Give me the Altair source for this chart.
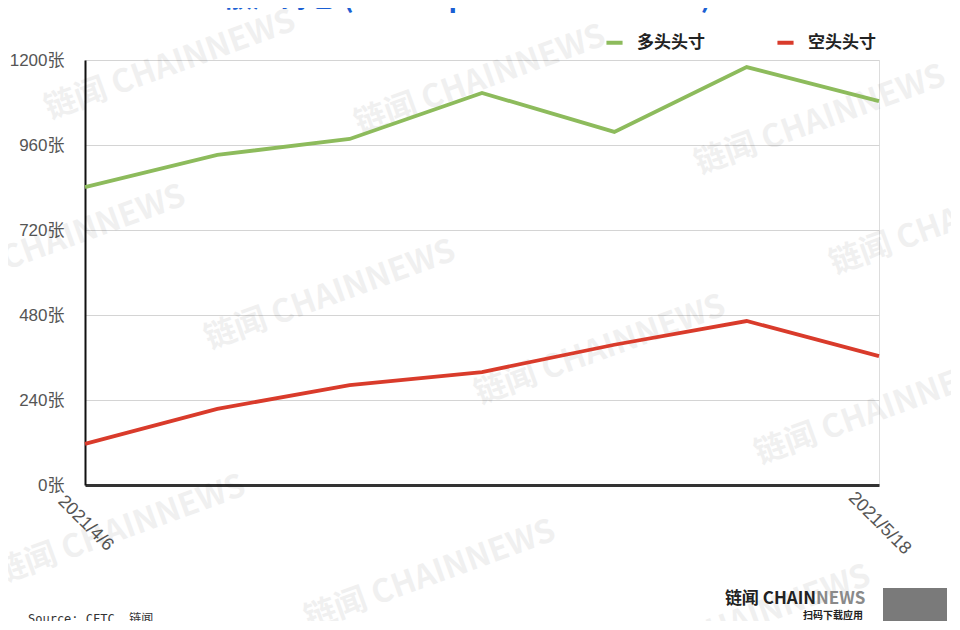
import altair as alt
import pandas as pd

dates = ["2021/4/6", "2021/4/13", "2021/4/20", "2021/4/27", "2021/5/4", "2021/5/11", "2021/5/18"]
long_vals = [841, 932, 977, 1107, 997, 1180, 1084]
short_vals = [116, 215, 282, 319, 396, 463, 364]
series_names = ["多头头寸", "空头头寸"]
series_colors = ["#8dbb5c", "#d93b2b"]
y_ticks = [0, 240, 480, 720, 960, 1200]

rows = []
for d, v in zip(dates, long_vals):
    rows.append({"date": d, "value": v, "series": series_names[0]})
for d, v in zip(dates, short_vals):
    rows.append({"date": d, "value": v, "series": series_names[1]})
df = pd.DataFrame(rows)

FONT = "Liberation Sans, Noto Sans CJK SC, sans-serif"
CJK = "Noto Sans CJK SC, sans-serif"

W, H = 794, 425

lines = alt.Chart(df).mark_line(strokeWidth=3.8, strokeJoin="miter").encode(
    x=alt.X("date:N", sort=dates,
            scale=alt.Scale(type="point", padding=0),
            axis=alt.Axis(values=[dates[0], dates[-1]], title=None, labelAngle=45,
                          labelAlign="center", labelBaseline="middle", labelPadding=38,
                          ticks=False, grid=False, domainColor="#333333", domainWidth=3,
                          labelFont=FONT, labelFontSize=18, labelColor="#555555")),
    y=alt.Y("value:Q", scale=alt.Scale(domain=[0, 1200], nice=False),
            axis=alt.Axis(values=y_ticks, title=None, labelExpr="datum.value + '张'",
                          ticks=False, labelPadding=21, gridColor="#d4d4d4", gridWidth=1,
                          domainColor="#111111", domainWidth=2,
                          labelFont=FONT, labelFontSize=17, labelColor="#555555")),
    color=alt.Color("series:N", sort=series_names,
                    scale=alt.Scale(domain=series_names, range=series_colors),
                    legend=alt.Legend(title=None, orient="none", direction="horizontal",
                                      legendX=519, legendY=-28, symbolType="stroke",
                                      symbolStrokeWidth=4, symbolSize=260,
                                      columnPadding=64, labelFont=CJK, labelFontSize=17,
                                      labelFontWeight="bold", labelColor="#222222",
                                      labelOffset=12)),
)

# watermark decoration
wm_x = [85, 395, 735, -25, 245, 515, 795, 35, 345, 660, 870]
wm_y = [5, 20, 60, 180, 235, 290, 350, 470, 515, 560, 160]
wm = pd.DataFrame({"x": wm_x, "y": wm_y, "t": ["链闻 CHAINNEWS"] * len(wm_x)})
watermark = alt.Chart(wm).mark_text(
    fontSize=32, font=CJK, fontWeight="bold", angle=340, color="#000000", opacity=0.055
).encode(x=alt.X("x:Q", scale=None), y=alt.Y("y:Q", scale=None), text="t:N")

title = alt.Chart(pd.DataFrame({"t": ["散户持仓 (Non-reportable Positions)"]})).mark_text(
    fontSize=28, font=CJK, fontWeight="bold", color="#1a5fd3", baseline="alphabetic"
).encode(x=alt.value(383), y=alt.value(-53), text="t:N")

source = alt.Chart(pd.DataFrame({"t": ["Source: CFTC, 链闻"]})).mark_text(
    fontSize=12, font="DejaVu Sans Mono, Noto Sans CJK SC", color="#333333",
    align="left", baseline="middle"
).encode(x=alt.value(-57), y=alt.value(559), text="t:N")

brand = alt.Chart(pd.DataFrame({"t": ["链闻 CHAIN"]})).mark_text(
    fontSize=17, font=CJK, fontWeight="bold", color="#222222", align="right", baseline="middle"
).encode(x=alt.value(731), y=alt.value(539), text="t:N")
brand2 = alt.Chart(pd.DataFrame({"t": ["NEWS"]})).mark_text(
    fontSize=17, font=CJK, fontWeight="bold", color="#8a8a8a", align="left", baseline="middle"
).encode(x=alt.value(731), y=alt.value(539), text="t:N")
brand3 = alt.Chart(pd.DataFrame({"t": ["扫码下载应用"]})).mark_text(
    fontSize=10, font=CJK, fontWeight="bold", color="#222222", align="right", baseline="middle"
).encode(x=alt.value(778), y=alt.value(556), text="t:N")
qr = alt.Chart(pd.DataFrame({"a": [0]})).mark_rect(color="#7a7a7a").encode(
    x=alt.value(798), x2=alt.value(862), y=alt.value(528), y2=alt.value(575))

chart = alt.layer(watermark, lines, title, source, brand, brand2, brand3, qr).properties(
    width=W, height=H,
    autosize=alt.AutoSizeParams(type="none"),
    padding={"left": 77, "top": 52, "right": 72, "bottom": 136},
).configure_view(stroke=None).configure(background="white")

chart.save("out.html", embed_options={"renderer": "svg", "actions": False})
